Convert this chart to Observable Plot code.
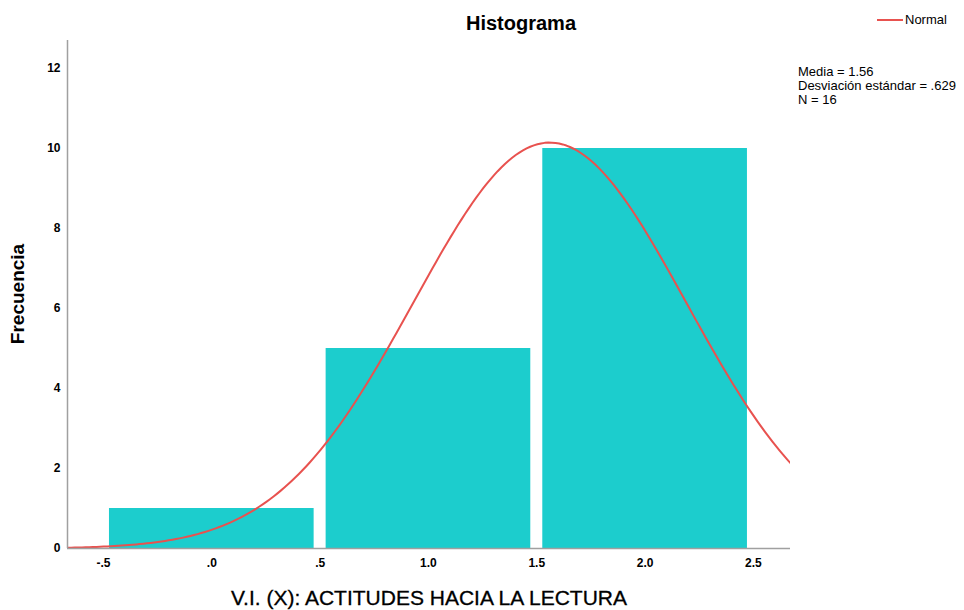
<!DOCTYPE html>
<html>
<head>
<meta charset="utf-8">
<script src="https://cdn.jsdelivr.net/npm/d3@7"></script>
<script src="https://cdn.jsdelivr.net/npm/@observablehq/plot@0.6"></script>
<style>
  html, body { margin: 0; padding: 0; background: #fff; overflow: hidden; }
  #wrap { position: relative; width: 964px; height: 610px; font-family: "Liberation Sans", Arial, sans-serif; overflow: hidden; }
  .ov { position: absolute; white-space: nowrap; color: #000; }
</style>
</head>
<body>
<div id="wrap"></div>
<script>
// Histogram bins (lower edge, upper edge) and frequencies
const binStarts = [-0.5, 0.5, 1.5];
const binEnds = [0.5, 1.5, 2.5];
const frequencies = [1, 5, 10];
// Summary statistics shown on the chart (used for the fitted normal curve)
const stats = { mean: 1.56, sd: 0.629, n: 16, binWidth: 1 };
const xTicks = [-0.5, 0, 0.5, 1.0, 1.5, 2.0, 2.5];
const xTickLabels = ["-.5", ".0", ".5", "1.0", "1.5", "2.0", "2.5"];
const yTicks = [0, 2, 4, 6, 8, 10, 12];

const bins = binStarts.map((s, i) => ({x1: s, x2: binEnds[i], y: frequencies[i]}));

const xMin = -0.666, xMax = 2.671;
const curve = d3.range(0, 201).map(i => {
  const x = xMin + (xMax - xMin) * i / 200;
  const z = (x - stats.mean) / stats.sd;
  return {x, y: stats.n * stats.binWidth / (stats.sd * Math.sqrt(2 * Math.PI)) * Math.exp(-0.5 * z * z)};
});

const chart = Plot.plot({
  width: 964,
  height: 610,
  marginLeft: 67,
  marginRight: 174,
  marginTop: 40,
  marginBottom: 62,
  style: {fontFamily: "Liberation Sans, Arial, sans-serif", background: "#fff"},
  x: {domain: [xMin, xMax], label: null},
  y: {domain: [0, 12.7], label: null},
  marks: [
    Plot.rect(bins, {x1: "x1", x2: "x2", y1: 0, y2: "y", fill: "#1ccdcd", insetLeft: 6, insetRight: 6}),
    Plot.line(curve, {x: "x", y: "y", stroke: "#e8524f", strokeWidth: 2, clip: true}),
    Plot.axisX({ticks: xTicks, tickFormat: (d) => xTickLabels[xTicks.indexOf(d)], tickSize: 0, tickPadding: 10, fontSize: 12, fontWeight: "bold", label: null}),
    Plot.axisY({ticks: yTicks, tickSize: 0, tickPadding: 7, fontSize: 12, fontWeight: "bold", label: null}),
    Plot.ruleX([xMin], {stroke: "#a0a0a0", strokeWidth: 1.5}),
    Plot.ruleY([0], {stroke: "#a0a0a0", strokeWidth: 1.5})
  ]
});

const wrap = document.getElementById("wrap");
wrap.appendChild(chart);

function ov(html, style) {
  const d = document.createElement("div");
  d.className = "ov";
  d.innerHTML = html;
  Object.assign(d.style, style);
  wrap.appendChild(d);
  return d;
}
ov("Histograma", {left: "466px", top: "12px", fontSize: "20px", fontWeight: "bold"});
ov("V.I. (X): ACTITUDES HACIA LA LECTURA", {left: "231px", top: "586px", fontSize: "21px", WebkitTextStroke: "0.3px #000"});
ov("Frecuencia", {left: "18px", top: "294px", fontSize: "19px", fontWeight: "bold", transform: "translate(-50%, -50%) rotate(-90deg)"});
ov('<span style="display:inline-block;width:26px;height:2px;background:#e8524f;vertical-align:middle;margin-right:2px;position:relative;top:-1px"></span>Normal', {left: "877px", top: "12px", fontSize: "13px"});
ov("Media = 1.56<br>Desviación estándar = .629<br>N = 16", {left: "798px", top: "65px", fontSize: "13px", lineHeight: "14px"});
</script>
</body>
</html>
